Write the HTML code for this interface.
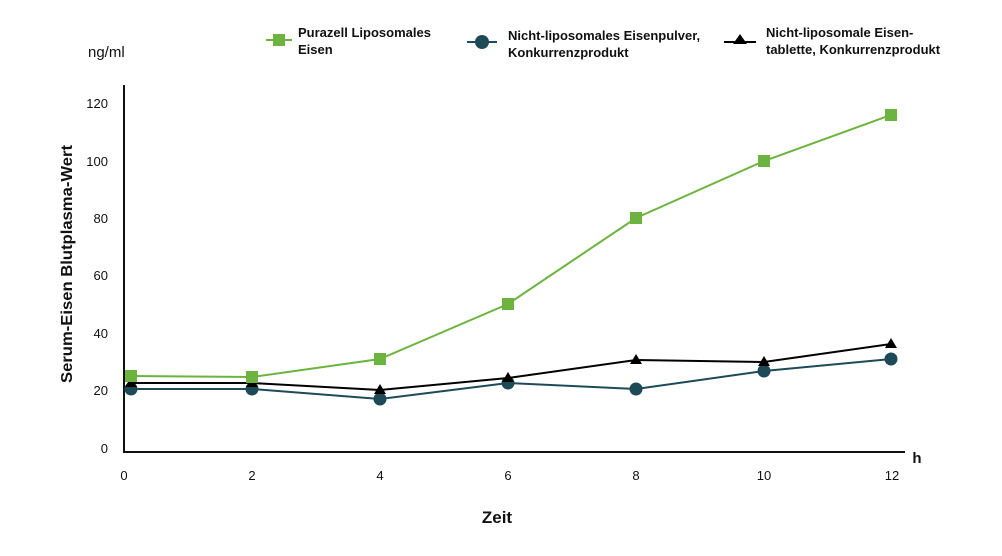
<!DOCTYPE html>
<html><head><meta charset="utf-8"><style>
body{margin:0;background:#fff;}
text{font-family:"Liberation Sans",sans-serif;}
</style></head><body>
<svg width="1002" height="551" viewBox="0 0 1002 551" xmlns="http://www.w3.org/2000/svg">
<g font-size="13" fill="#111" text-anchor="end">
<text x="108" y="108">120</text><text x="108" y="166">100</text><text x="108" y="223">80</text>
<text x="108" y="280">60</text><text x="108" y="338">40</text><text x="108" y="395">20</text><text x="108" y="453">0</text>
</g>
<g font-size="13" fill="#111" text-anchor="middle">
<text x="124" y="480">0</text><text x="252" y="480">2</text><text x="380" y="480">4</text><text x="508" y="480">6</text>
<text x="636" y="480">8</text><text x="764" y="480">10</text><text x="892" y="480">12</text>
</g>
<text x="917" y="463" font-size="15" font-weight="bold" fill="#111" text-anchor="middle">h</text>
<text x="497" y="523" font-size="17" font-weight="bold" fill="#111" text-anchor="middle">Zeit</text>
<text x="88" y="57" font-size="15" fill="#111">ng/ml</text>
<text transform="translate(72,264) rotate(-90)" font-size="16" font-weight="bold" fill="#111" text-anchor="middle" textLength="238" lengthAdjust="spacingAndGlyphs">Serum-Eisen Blutplasma-Wert</text>
<path d="M124 85 V452 H905" fill="none" stroke="#111" stroke-width="2"/>
<polyline points="131,389 252,389 380,399 508,383 636,389 764,371 891,359" fill="none" stroke="#1e4a57" stroke-width="2"/>
<g fill="#1e4a57"><circle cx="131" cy="389" r="6.5"/><circle cx="252" cy="389" r="6.5"/><circle cx="380" cy="399" r="6.5"/><circle cx="508" cy="383" r="6.5"/><circle cx="636" cy="389" r="6.5"/><circle cx="764" cy="371" r="6.5"/><circle cx="891" cy="359" r="6.5"/></g>
<polyline points="131,383 252,383 380,390 508,378 636,360 764,362 891,344" fill="none" stroke="#000" stroke-width="2"/>
<g fill="#000"><path d="M131 377 l6 10 h-12z"/><path d="M252 377 l6 10 h-12z"/><path d="M380 384 l6 10 h-12z"/><path d="M508 372 l6 10 h-12z"/><path d="M636 354 l6 10 h-12z"/><path d="M764 356 l6 10 h-12z"/><path d="M891 338 l6 10 h-12z"/></g>
<polyline points="131,376 252,377 380,359 508,304 636,218 764,161 891,115" fill="none" stroke="#6db33f" stroke-width="2"/>
<g fill="#6db33f"><rect x="125" y="370" width="12" height="12"/><rect x="246" y="371" width="12" height="12"/><rect x="374" y="353" width="12" height="12"/><rect x="502" y="298" width="12" height="12"/><rect x="630" y="212" width="12" height="12"/><rect x="758" y="155" width="12" height="12"/><rect x="885" y="109" width="12" height="12"/></g>
<line x1="266" y1="40" x2="292" y2="40" stroke="#6db33f" stroke-width="2"/><rect x="273" y="34" width="12" height="12" fill="#6db33f"/>
<line x1="467" y1="42" x2="497" y2="42" stroke="#1e4a57" stroke-width="2"/><circle cx="482" cy="42" r="7" fill="#1e4a57"/>
<line x1="724" y1="42" x2="756" y2="42" stroke="#000" stroke-width="2"/><path d="M740 34 l7 10 h-14z" fill="#000"/>
<g font-size="13" font-weight="bold" fill="#111">
<text x="298" y="37">Purazell Liposomales</text><text x="298" y="54">Eisen</text>
<text x="508" y="40">Nicht-liposomales Eisenpulver,</text><text x="508" y="57">Konkurrenzprodukt</text>
<text x="766" y="37">Nicht-liposomale Eisen-</text><text x="766" y="54">tablette, Konkurrenzprodukt</text>
</g>
</svg>
</body></html>
